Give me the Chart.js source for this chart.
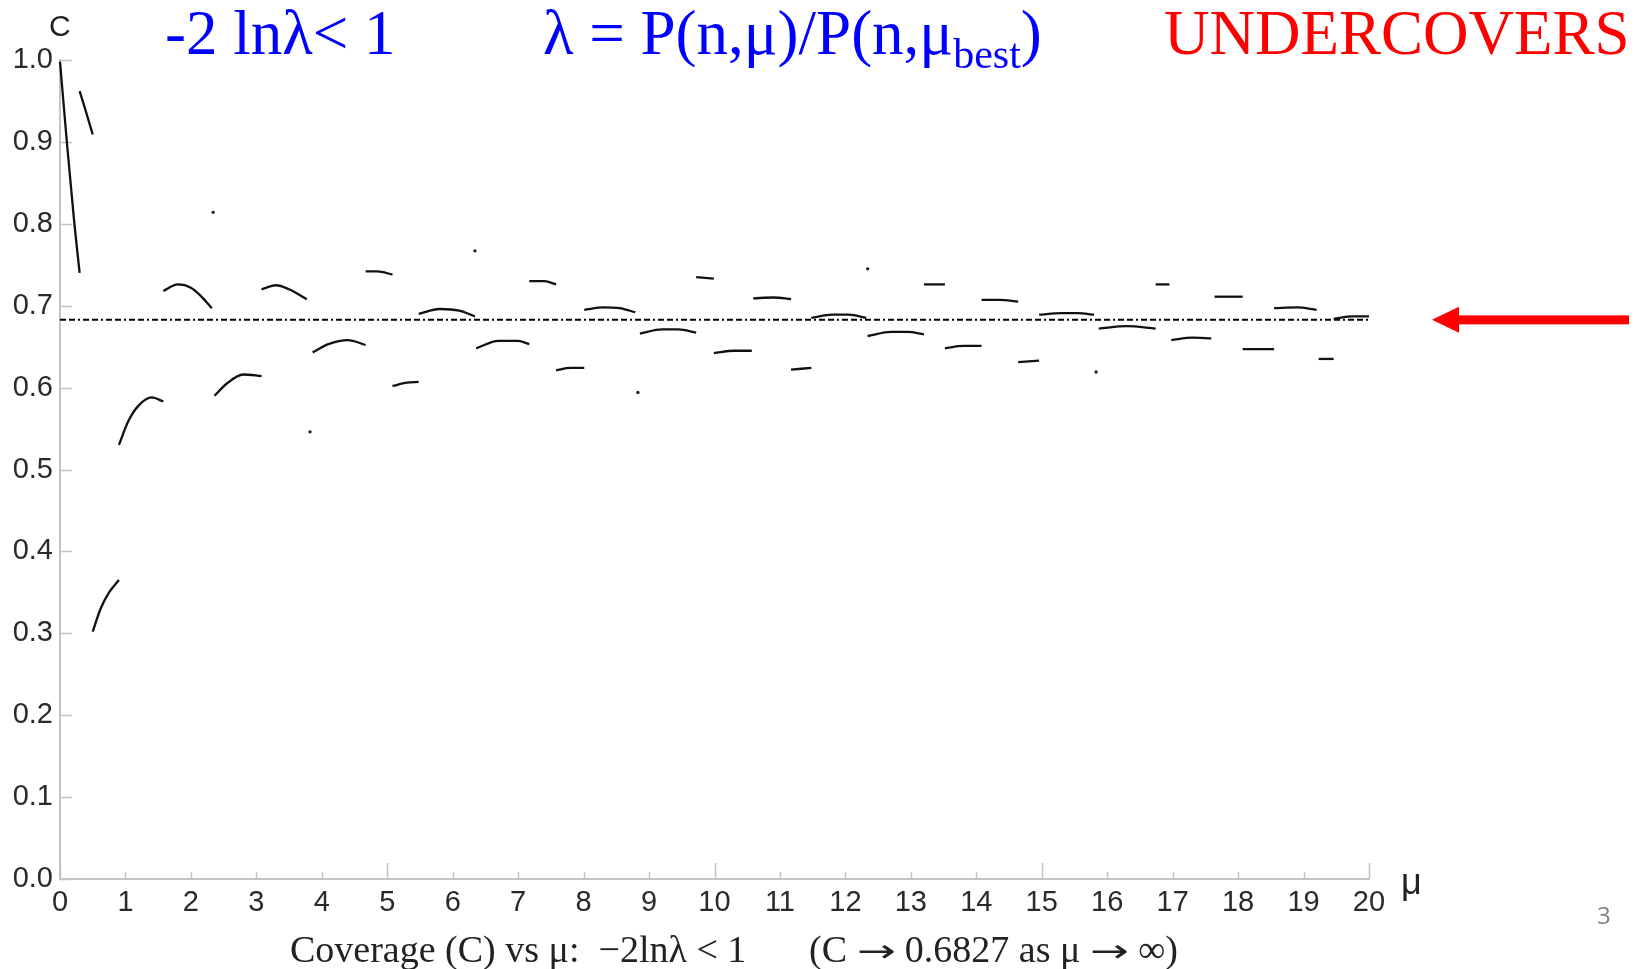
<!DOCTYPE html>
<html>
<head>
<meta charset="utf-8">
<script src="https://cdn.jsdelivr.net/npm/chart.js@4"></script>
<style>
  body { margin: 0; background: #fff; }
  #wrap { position: relative; width: 1637px; height: 969px; overflow: hidden; }
  #cov { position: absolute; left: 0; top: 0; }
  .txt { position: absolute; white-space: pre; line-height: 1; }
  .serif { font-family: "Liberation Serif", "Times New Roman", serif; }
  .sans { font-family: "Liberation Sans", Arial, sans-serif; }
  .arr { font-family: "DejaVu Sans", sans-serif; font-size: 32px; display: inline-block; transform: scaleX(1.45); margin: 0 6px; }
</style>
</head>
<body>
<div id="wrap">
  <canvas id="cov" width="1637" height="969"></canvas>
  <div class="txt sans" style="left:49px; top:11px; font-size:30px; color:#222;">C</div>
  <div class="txt serif" style="left:165px; top:2px; font-size:63px; color:#0000ff;">-2 lnλ&lt; 1</div>
  <div class="txt serif" style="left:543px; top:2px; font-size:63px; color:#0000ff;">λ = P(n,μ)/P(n,μ<span style="font-size:42px; vertical-align:-14px;">best</span>)</div>
  <div class="txt serif" style="left:1164px; top:2px; font-size:63px; color:#ff0000;">UNDERCOVERS</div>
  <div class="txt sans" style="left:1401px; top:864px; font-size:36px; color:#222;">μ</div>
  <div class="txt serif" style="left:290px; top:930px; font-size:38px; color:#222;">Coverage (C) vs μ:  −2lnλ &lt; 1</div>
  <div class="txt serif" style="left:809px; top:930px; font-size:38px; color:#222;">(C <span class="arr">→</span> 0.6827 as μ <span class="arr">→</span> ∞)</div>
  <div class="txt" style="left:1597px; top:903px; font-size:24px; color:#808080; font-family:'Open Sans', sans-serif;">3</div>
</div>
<script>
// coverage C vs mu; each inner list is one continuous piece
const segmentsLow = [
  [[0, 0.998], [0.11, 0.895], [0.22, 0.80], [0.30, 0.74]],
  [[0.30, 0.962], [0.40, 0.936], [0.50, 0.909]],
  [[0.50, 0.302], [0.62, 0.330], [0.75, 0.350], [0.90, 0.365]],
  [[0.90, 0.530], [1.05, 0.560], [1.20, 0.578], [1.40, 0.588], [1.58, 0.583]],
  [[1.58, 0.718], [1.80, 0.726], [2.00, 0.722], [2.15, 0.712], [2.32, 0.697]],
  [[2.36, 0.590], [2.55, 0.605], [2.80, 0.616], [3.08, 0.614]],
  [[3.08, 0.720], [3.30, 0.725], [3.50, 0.720], [3.77, 0.708]],
  [[3.86, 0.643], [4.10, 0.653], [4.40, 0.658], [4.67, 0.652]],
  [[4.67, 0.742], [4.85, 0.742], [5.08, 0.738]]
];
const segmentsMid = [
  [[5.08, 0.602], [5.30, 0.606], [5.48, 0.607]],
  [[5.48, 0.690], [5.80, 0.696], [6.10, 0.694], [6.34, 0.687]],
  [[6.36, 0.648], [6.70, 0.657], [7.00, 0.657], [7.17, 0.653]],
  [[7.17, 0.730], [7.40, 0.730], [7.58, 0.726]],
  [[7.58, 0.621], [7.80, 0.624], [8.01, 0.624]],
  [[8.01, 0.695], [8.30, 0.698], [8.55, 0.697], [8.79, 0.692]],
  [[8.86, 0.666], [9.20, 0.671], [9.45, 0.671], [9.72, 0.667]],
  [[9.72, 0.735], [9.99, 0.733]]
];
const segmentsHigh = [
  [[9.99, 0.642], [10.30, 0.645], [10.57, 0.645]],
  [[10.59, 0.709], [10.90, 0.710], [11.17, 0.708]],
  [[11.17, 0.622], [11.48, 0.624]],
  [[11.48, 0.685], [11.80, 0.689], [12.05, 0.689], [12.32, 0.685]],
  [[12.34, 0.663], [12.70, 0.668], [12.95, 0.668], [13.20, 0.665]],
  [[13.20, 0.726], [13.52, 0.726]],
  [[13.52, 0.648], [13.80, 0.651], [14.08, 0.651]],
  [[14.08, 0.707], [14.35, 0.707], [14.64, 0.705]],
  [[14.64, 0.631], [14.96, 0.633]],
  [[14.96, 0.689], [15.30, 0.691], [15.55, 0.691], [15.80, 0.689]],
  [[15.87, 0.672], [16.30, 0.675], [16.74, 0.672]],
  [[16.74, 0.726], [16.95, 0.726]],
  [[16.98, 0.658], [17.30, 0.661], [17.59, 0.660]],
  [[17.64, 0.711], [18.07, 0.711]],
  [[18.07, 0.647], [18.55, 0.647]],
  [[18.55, 0.697], [18.90, 0.698], [19.20, 0.695]],
  [[19.23, 0.635], [19.46, 0.635]],
  [[19.46, 0.684], [19.75, 0.687], [20.0, 0.687]]
];
// tiny pieces that show up as dots
const dotMu = [2.34, 3.82, 6.34, 8.83, 12.34, 15.83];
const dotC  = [0.814, 0.546, 0.767, 0.594, 0.745, 0.619];

const limitC = 0.6827;
const xTicks = [0, 1, 2, 3, 4, 5, 6, 7, 8, 9, 10, 11, 12, 13, 14, 15, 16, 17, 18, 19, 20];
const yTicks = [0, 0.1, 0.2, 0.3, 0.4, 0.5, 0.6, 0.7, 0.8, 0.9, 1.0];

const datasets = [];
[...segmentsLow, ...segmentsMid, ...segmentsHigh].forEach(seg => {
  datasets.push({
    data: seg.map(p => ({ x: p[0], y: p[1] })),
    borderColor: '#111',
    borderWidth: 2.3,
    pointRadius: 0,
    cubicInterpolationMode: 'monotone',
    fill: false
  });
});
datasets.push({
  data: dotMu.map((m, i) => ({ x: m, y: dotC[i] })),
  showLine: false,
  pointRadius: 1.7,
  pointBackgroundColor: '#222',
  pointBorderWidth: 0
});
datasets.push({
  data: [{ x: 0, y: limitC }, { x: 20, y: limitC }],
  borderColor: '#000',
  borderWidth: 2,
  borderDash: [6, 3, 6, 3, 2, 3],
  pointRadius: 0
});

// inward tick marks + red arrow pointing at the limit line
const extras = {
  id: 'extras',
  beforeDatasetsDraw(chart) {
    const { ctx, chartArea: a, scales: { x, y } } = chart;
    ctx.save();
    ctx.strokeStyle = '#c4c4c4';
    ctx.lineWidth = 1.5;
    ctx.beginPath();
    yTicks.forEach(v => {
      const py = Math.round(y.getPixelForValue(v)) + 0.5;
      ctx.moveTo(a.left, py); ctx.lineTo(a.left + 12, py);
    });
    xTicks.forEach(v => {
      const px = Math.round(x.getPixelForValue(v)) + 0.5;
      const len = v % 5 === 0 ? 16 : 7;
      ctx.moveTo(px, a.bottom); ctx.lineTo(px, a.bottom - len);
    });
    ctx.stroke();
    ctx.restore();
  },
  afterDraw(chart) {
    const { ctx, scales: { y } } = chart;
    const py = y.getPixelForValue(limitC);
    ctx.save();
    ctx.fillStyle = '#ff0000';
    ctx.fillRect(1456, py - 4.5, 173, 9);
    ctx.beginPath();
    ctx.moveTo(1432, py);
    ctx.lineTo(1459, py - 13);
    ctx.lineTo(1459, py + 13);
    ctx.closePath();
    ctx.fill();
    ctx.restore();
  }
};

Chart.defaults.font.family = '"Liberation Sans", Arial, sans-serif';

new Chart(document.getElementById('cov').getContext('2d'), {
  type: 'line',
  data: { datasets },
  options: {
    responsive: false,
    animation: false,
    layout: { padding: { left: 0, top: 60, right: 268, bottom: 0 } },
    plugins: { legend: { display: false }, tooltip: { enabled: false } },
    elements: { line: { tension: 0 } },
    datasets: { line: { clip: false } },
    scales: {
      x: {
        type: 'linear',
        min: 0, max: 20,
        afterBuildTicks: s => { s.ticks = xTicks.map(v => ({ value: v })); },
        afterFit: s => { s.height = 90; },
        grid: { display: false, drawTicks: false },
        border: { display: true, color: '#c4c4c4', width: 2 },
        ticks: { font: { size: 29 }, color: '#2a2a2a', padding: 7, autoSkip: false, maxRotation: 0 }
      },
      y: {
        type: 'linear',
        min: 0, max: 1,
        afterBuildTicks: s => { s.ticks = yTicks.map(v => ({ value: v })); },
        afterFit: s => { s.width = 60; },
        grid: { display: false, drawTicks: false },
        border: { display: true, color: '#c4c4c4', width: 2 },
        ticks: { font: { size: 29 }, color: '#2a2a2a', padding: 7, callback: v => v.toFixed(1) }
      }
    }
  },
  plugins: [extras]
});
</script>
</body>
</html>
